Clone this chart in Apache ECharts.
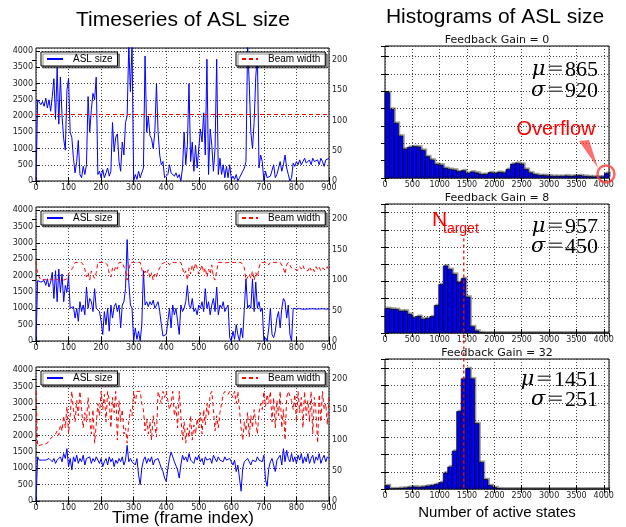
<!DOCTYPE html>
<html>
<head>
<meta charset="utf-8">
<script src="https://cdn.jsdelivr.net/npm/echarts@6/dist/echarts.min.js"></script>
<style>
  html, body { margin: 0; padding: 0; background: #fff; }
  #chart { width: 626px; height: 527px; }
</style>
</head>
<body>
<div id="chart"></div>
<script>
// sampled every 5 frames, 0..900
const frameStep = 5;

// Feedback gain 0
const asl0 = [
  0,2500,2450,2350,2450,2300,2550,2250,2500,2150,2600,3150,1900,3500,1750,3200,2000,1300,950,2800,
  3150,1500,1350,700,250,600,1250,200,100,450,200,500,2600,1500,2200,2700,2500,3200,200,300,
  100,350,100,250,400,150,300,1800,900,1350,1450,600,300,1200,800,1800,2000,4200,2750,4200,
  0,200,50,300,100,250,400,3850,1500,2000,1400,1300,1000,1500,3000,1500,800,500,600,100,
  50,200,500,250,300,150,250,100,200,0,400,1500,500,1100,3000,600,1200,300,1100,400,
  1000,1600,1200,2100,800,3750,200,1600,1100,300,1000,3750,200,700,200,500,100,450,100,500,
  50,150,50,200,0,100,50,300,400,600,4200,3000,1500,1000,1800,3200,3900,400,800,600,
  0,300,100,50,150,100,500,100,200,150,600,300,500,800,400,200,0,100,550,450,
  600,500,650,500,600,700,550,600,650,500,700,600,550,650,500,700,600,450,650,600,
  700
];
const beam0 = [[0, 110], [900, 110]];

// Feedback gain 8
const asl8 = [
  0,1850,1800,1800,1750,1850,1700,1900,1650,1800,2100,1300,2150,1200,2200,1500,2050,1200,1700,1500,
  2000,1000,950,1050,700,1000,600,1200,900,1100,800,1650,1000,1300,1200,900,1600,1000,1050,900,
  600,200,900,500,1000,300,1100,700,1050,1150,900,1100,400,1100,1200,1600,3100,1800,1100,1000,
  0,400,50,300,0,500,2150,1100,1200,1050,1200,1100,1250,1000,1100,1200,900,500,150,100,
  200,600,1000,400,1100,800,1000,600,200,1100,900,1000,1200,1700,1100,1000,1300,900,1000,800,
  1100,1000,1200,900,1600,1000,1200,800,1100,1300,900,1650,800,1100,1000,1200,900,1000,1100,100,
  0,300,50,500,200,0,400,100,1000,1900,1000,1100,1000,1900,900,1800,1000,1200,900,1000,
  0,100,0,400,1000,200,100,300,700,900,400,1000,1300,1200,700,1100,200,0,1000,980,
  980,970,990,980,970,985,975,990,980,970,985,980,975,990,980,970,985,980,975,990,
  980
];
const beam8 = [
  130,110,105,100,100,101,100,100,100,101,100,100,100,101,100,100,100,100,101,102,
  110,112,118,122,129,129,129,129,129,125,118,105,112,100,115,108,103,112,129,129,
  129,129,129,129,125,110,105,120,115,123,118,129,129,129,129,115,100,115,129,129,
  129,129,129,129,129,118,105,115,110,117,103,112,100,110,105,115,120,126,129,129,
  129,129,125,129,129,129,127,129,129,129,120,110,115,100,120,110,125,115,128,120,
  110,117,125,112,120,105,118,110,125,105,100,115,129,129,129,129,128,129,129,129,
  129,129,129,129,129,129,129,129,120,100,105,110,103,115,100,112,105,120,129,129,
  129,129,129,125,129,129,129,129,129,129,129,129,120,110,125,129,129,120,122,118,
  121,116,122,118,124,117,120,115,122,116,120,114,122,117,121,115,120,118,116,122,
  115
];

// Feedback gain 32
const asl32 = [
  0,1350,1250,1300,1250,1300,1250,1200,1300,1250,1200,1300,1150,1250,1200,1350,1200,1450,1300,1600,
  1050,1300,950,1350,1200,1400,1150,1300,1200,1400,1100,1300,1250,1350,1150,1300,1200,1350,1250,1150,
  1300,1050,1200,1300,1100,1350,1200,1300,1050,1250,1150,1300,1200,1350,1100,1250,1700,1200,1300,1200,
  1250,1100,1300,800,500,1000,1250,1350,1150,1300,1200,1350,1100,1250,1200,1300,1150,1000,900,700,
  600,1000,1300,1500,1350,1200,1250,950,700,1100,1400,1250,1350,1200,1450,1250,1300,1150,1350,1250,
  1400,1200,1300,1100,1350,1250,1200,1300,1150,1400,1300,1200,1350,1250,1300,1200,1350,1250,1200,1300,
  1300,1100,1250,900,1100,700,300,1000,1200,1150,1300,1200,1100,1250,1300,1200,1350,1250,1300,1200,
  1400,650,450,1000,1200,1300,1100,900,1250,1200,1400,1100,1600,1200,1550,1300,1200,1450,1200,1350,
  1150,1400,1250,1450,1150,1350,1200,1450,1150,1300,1400,1150,1350,1250,1450,1150,1300,1400,1200,1350,
  1300
];
const beam32 = [
  180,90,90,92,90,93,90,95,100,97,105,103,110,115,108,125,115,140,120,155,
  110,140,180,150,130,165,140,180,150,120,145,130,170,135,110,150,95,125,160,140,
  180,150,175,130,180,165,120,170,145,180,100,165,130,150,110,120,95,130,150,140,
  180,160,180,180,180,160,150,115,135,110,130,100,140,125,105,180,180,160,180,170,
  180,165,150,160,180,140,155,120,180,140,100,130,95,120,105,140,100,125,110,135,
  120,145,110,150,125,160,140,175,180,150,115,140,120,145,160,175,180,180,175,180,
  180,170,180,160,180,150,120,100,130,115,145,105,140,120,150,130,110,145,160,150,
  180,155,175,160,180,130,170,120,165,140,180,120,150,100,170,180,180,165,150,175,
  130,180,145,170,120,180,140,165,130,180,110,170,145,95,175,130,180,150,160,125,
  170
];

// histograms: 50 bins over 0..4096, heights in gridline units
const histGain0 = [
  4.92,3.96,3.15,2.42,1.67,1.77,1.81,1.79,1.6,1.23,1.04,0.79,0.75,0.56,0.5,0.46,0.37,0.42,0.27,0.35,
  0.29,0.21,0.21,0.31,0.27,0.33,0.3,0.5,0.8,0.85,0.8,0.5,0.3,0.2,0.15,0.15,0.12,0.1,0.1,0.1,
  0.12,0.1,0.12,0.14,0.1,0.08,0.07,0.07,0.07,0.27
];
const histGain8 = [
  1.43,1.39,1.37,1.28,1.28,1.09,0.89,0.97,0.81,0.85,0.95,1.6,2.82,3.9,3.7,3.42,2.94,3.17,2.09,0.37,
  0.12,0.02,0,0,0,0,0,0,0,0,0,0,0,0,0,0,0,0,0,0,
  0,0,0,0,0,0,0,0,0,0
];
const histGain32 = [
  0.2,0.01,0.02,0.04,0.06,0.1,0.12,0.1,0.12,0.17,0.2,0.27,0.37,0.93,1.28,2.2,4.5,6.4,7.0,6.4,
  3.8,1.55,0.55,0.2,0.08,0.02,0,0,0,0,0,0,0,0,0,0,0,0,0,0,
  0,0,0,0,0,0,0,0,0,0
];
const histMax = [7.6, 7.5, 7.55];
const gainLabels = ["Feedback Gain = 0", "Feedback Gain = 8", "Feedback Gain = 32"];
const stats = [["865", "920"], ["957", "450"], ["1451", "251"]];
const nTarget = 1440;

const tsGrids = [
  { left: 36, top: 48, width: 293, height: 133 },
  { left: 36, top: 207, width: 293, height: 134 },
  { left: 36, top: 367, width: 293, height: 134 }
];
const histGrids = [
  { left: 385, top: 46, width: 224, height: 132 },
  { left: 385, top: 204, width: 224, height: 129 },
  { left: 385, top: 359, width: 224, height: 130 }
];

const tickFont = { fontSize: 8, fontFamily: "DejaVu Sans", color: "#222", formatter: (v) => String(v) };
const gridLine = { show: true, lineStyle: { color: "#444", type: [1, 2], width: 1 } };
const tick = { show: true, inside: true, length: 4, lineStyle: { color: "#000" } };
const binW = 4096 / 50;

const withFrames = (vals) => vals.map((v, i) => [i * frameStep, v]);
const histData = (c) => c.map((v, k) => [k * binW, (k + 1) * binW, v]);

const chart = echarts.init(document.getElementById("chart"), null, { renderer: "canvas" });

const grids = [];
const xAxes = [];
const yAxes = [];
const series = [];
const legends = [];

tsGrids.forEach((g, p) => {
  grids.push(Object.assign({ show: true, borderColor: "#000", borderWidth: 1, backgroundColor: "transparent" }, g));
  xAxes.push({
    type: "value", gridIndex: p, min: 0, max: 900, interval: 100,
    axisLine: { show: false }, axisTick: tick, splitLine: gridLine,
    axisLabel: Object.assign({ margin: 3 }, tickFont)
  });
  yAxes.push({
    type: "value", gridIndex: p, min: 0, max: 4096, interval: 500, position: "left",
    axisLine: { show: false }, axisTick: tick, splitLine: gridLine,
    axisLabel: Object.assign({ margin: 3, showMaxLabel: false }, tickFont)
  });
  yAxes.push({
    type: "value", gridIndex: p, min: 0, max: 220, interval: 50, position: "right",
    axisLine: { show: false }, axisTick: tick, splitLine: { show: false },
    axisLabel: Object.assign({ margin: 3, showMaxLabel: false }, tickFont)
  });
  const legBase = {
    top: g.top + 4, orient: "horizontal", itemWidth: 16, itemHeight: 9,
    padding: [2, 5, 2, 5], backgroundColor: "#fff", borderColor: "#000", borderWidth: 1,
    shadowColor: "rgba(0,0,0,0.45)", shadowOffsetX: 2, shadowOffsetY: 2, shadowBlur: 0,
    selectedMode: false,
    itemStyle: { color: "transparent", borderWidth: 0, opacity: 0 },
    textStyle: { fontSize: 10, fontFamily: "Liberation Sans", color: "#000", padding: [0, 0, 0, 5] }
  };
  legends.push(Object.assign({ left: 41, data: ["ASL size"] }, legBase));
  legends.push(Object.assign({ left: 236, data: ["Beam width"] }, legBase));
});

const aslSets = [asl0, asl8, asl32];
const beamSets = [beam0, withFrames(beam8), withFrames(beam32)];
aslSets.forEach((a, p) => {
  series.push({
    name: "ASL size", type: "line", xAxisIndex: p, yAxisIndex: 2 * p,
    data: withFrames(a), symbol: "none", showSymbol: false, z: 3,
    lineStyle: { color: "#0000ff", width: 1 }, itemStyle: { color: "#0000ff" }
  });
  series.push({
    name: "Beam width", type: "line", xAxisIndex: p, yAxisIndex: 2 * p + 1,
    data: beamSets[p], symbol: "none", showSymbol: false, z: 4,
    lineStyle: { color: "#ff0000", width: 1, type: [4, 3] }, itemStyle: { color: "#ff0000" }
  });
});

const histSets = [histGain0, histGain8, histGain32];
histGrids.forEach((g, h) => {
  const gi = 3 + h;
  grids.push(Object.assign({ show: true, borderColor: "#000", borderWidth: 1, backgroundColor: "transparent" }, g));
  xAxes.push({
    type: "value", gridIndex: gi, min: 0, max: 4096, interval: 500,
    axisLine: { show: false }, axisTick: tick, splitLine: gridLine,
    axisLabel: Object.assign({ margin: 3, showMaxLabel: false }, tickFont)
  });
  yAxes.push({
    type: "value", gridIndex: gi, min: 0, max: histMax[h], interval: 1,
    axisLine: { show: false }, axisTick: tick, splitLine: gridLine,
    axisLabel: { show: false }
  });
  series.push({
    type: "custom", xAxisIndex: gi, yAxisIndex: 6 + h, z: 2,
    data: histData(histSets[h]),
    renderItem: (params, api) => {
      const p0 = api.coord([api.value(0), api.value(2)]);
      const p1 = api.coord([api.value(1), 0]);
      return {
        type: "rect",
        shape: { x: p0[0], y: p0[1], width: p1[0] - p0[0], height: p1[1] - p0[1] },
        style: {
          fill: "#0000ff", stroke: "#000", lineWidth: 0.7,
          shadowColor: "rgba(0,0,0,0.3)", shadowOffsetX: 1.5, shadowOffsetY: -1.5, shadowBlur: 0
        }
      };
    }
  });
});

// mirrored tick marks on the top (all panels) and right (histograms) edges
const bare = { axisLine: { show: false }, axisTick: tick, splitLine: { show: false }, axisLabel: { show: false } };
[0, 1, 2].forEach((p) => xAxes.push(Object.assign({ type: "value", gridIndex: p, position: "top", min: 0, max: 900, interval: 100 }, bare)));
[3, 4, 5].forEach((gi, h) => {
  xAxes.push(Object.assign({ type: "value", gridIndex: gi, position: "top", min: 0, max: 4096, interval: 500 }, bare));
  yAxes.push(Object.assign({ type: "value", gridIndex: gi, position: "right", min: 0, max: histMax[h], interval: 1 }, bare));
});

chart.setOption({
  animation: false,
  backgroundColor: "#fff",
  grid: grids,
  xAxis: xAxes,
  yAxis: yAxes,
  legend: legends,
  series: series
});

// annotations
const txt = (text, x, y, size, opts) => ({
  type: "text", silent: true, z: 20,
  style: Object.assign({
    text: text, x: x, y: y, textAlign: "center", textVerticalAlign: "middle",
    fontSize: size, fontFamily: "Liberation Sans", fill: "#000"
  }, opts || {})
});

const graphics = [
  txt("Timeseries of ASL size", 183, 20, 21),
  txt("Histograms of ASL size", 495, 17, 21),
  txt("Time (frame index)", 183, 518, 17),
  txt("Number of active states", 497, 513, 15)
];

const statY = [[70, 91], [227, 247], [380, 400]];
histGrids.forEach((g, h) => {
  graphics.push(txt(gainLabels[h], g.left + g.width / 2, g.top - 6, 11, { fontFamily: "DejaVu Sans", fill: "#111" }));
  const rich = {
    i: { fontFamily: "DejaVu Serif", fontStyle: "italic", fontSize: 21, fill: "#000" },
    e: { fontFamily: "DejaVu Serif", fontSize: 21, fill: "#555", padding: [0, 1, 0, 1] },
    n: { fontFamily: "Liberation Serif", fontSize: 22, fill: "#000" }
  };
  graphics.push({
    type: "text", silent: true, z: 20,
    style: { text: "{i|μ}{e|=}{n|" + stats[h][0] + "}", x: 598, y: statY[h][0], textAlign: "right", textVerticalAlign: "middle", rich: rich }
  });
  graphics.push({
    type: "text", silent: true, z: 20,
    style: { text: "{i|σ}{e|=}{n|" + stats[h][1] + "}", x: 598, y: statY[h][1], textAlign: "right", textVerticalAlign: "middle", rich: rich }
  });
});

// overflow marker
graphics.push(txt("Overflow", 556, 129, 20, { fill: "#ff0000" }));
graphics.push({
  type: "polygon", silent: true, z: 19,
  shape: { points: [[579, 141], [589, 140], [598, 168]] },
  style: { fill: "rgba(255,60,60,0.75)" }
});
graphics.push({
  type: "circle", silent: true, z: 19,
  shape: { cx: 606, cy: 174, r: 8.5 },
  style: { fill: "none", stroke: "rgba(255,60,60,0.8)", lineWidth: 2.5 }
});

// N target line across the lower two histograms
const ntX = chart.convertToPixel({ xAxisIndex: 4 }, nTarget);
const ntTop = chart.convertToPixel({ yAxisIndex: 7 }, 5.5);
const ntBot = chart.convertToPixel({ yAxisIndex: 8 }, 0);
graphics.push({
  type: "line", silent: true, z: 18,
  shape: { x1: ntX, y1: ntTop, x2: ntX, y2: ntBot },
  style: { stroke: "#ff0000", lineWidth: 1.5, lineDash: [3, 3], opacity: 0.85 }
});
graphics.push(txt("N", 432, 220, 21, { textAlign: "left", fill: "#ff0000" }));
graphics.push(txt("target", 443, 229, 14, { textAlign: "left", fill: "#ff0000" }));

chart.setOption({ graphic: graphics });
</script>
</body>
</html>
